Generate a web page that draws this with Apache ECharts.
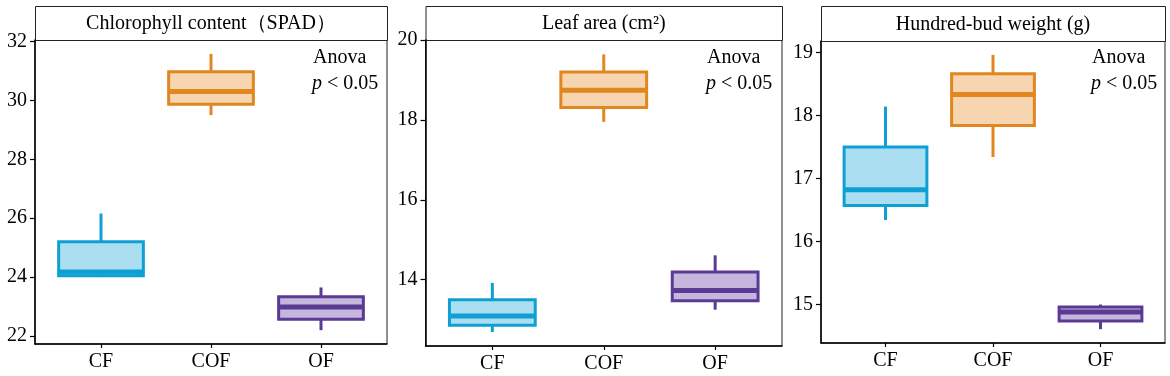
<!DOCTYPE html>
<html>
<head>
<meta charset="utf-8">
<script src="https://cdn.jsdelivr.net/npm/echarts@6/dist/echarts.min.js"></script>
<style>
  html, body { margin: 0; padding: 0; background: #fff; }
  #chart { width: 1170px; height: 376px; }
</style>
</head>
<body>
<div id="chart"></div>
<script>
// groups on the x axis
var categories = ['CF', 'COF', 'OF'];

// [min, Q1, median, Q3, max] per group
var chlorophyll = [
  [24.0, 24.05, 24.17, 25.2, 26.16],
  [29.5, 29.87, 30.3, 30.97, 31.58],
  [22.2, 22.57, 22.99, 23.33, 23.65]
];
var leafArea = [
  [12.69, 12.86, 13.09, 13.5, 13.92],
  [17.95, 18.31, 18.74, 19.2, 19.64],
  [13.25, 13.47, 13.73, 14.19, 14.61]
];
var budWeight = [
  [16.34, 16.57, 16.82, 17.5, 18.14],
  [17.34, 17.84, 18.33, 18.66, 18.96],
  [14.61, 14.74, 14.88, 14.96, 15.0]
];

// y tick labels
var chlorophyllTicks = [22, 24, 26, 28, 30, 32];
var leafAreaTicks = [14, 16, 18, 20];
var budWeightTicks = [15, 16, 17, 18, 19];

var titles = ['Chlorophyll content（SPAD）', 'Leaf area (cm²)', 'Hundred-bud weight (g)'];

var palette = [
  { line: '#0ea0d4', fill: '#abdef1' },
  { line: '#e0871f', fill: '#f6d5b0' },
  { line: '#5b3a95', fill: '#c5b6de' }
];

var FONT = '"Liberation Serif", "Times New Roman", serif';

// panel layout (px)
var panels = [
  { left: 35, width: 352, top: 40, height: 304, min: 21.73, max: 32.05, ticks: chlorophyllTicks, data: chlorophyll, textX: 312 },
  { left: 425.5, width: 356.5, top: 40, height: 306, min: 12.34, max: 20.0, ticks: leafAreaTicks, data: leafArea, textX: 706 },
  { left: 821, width: 344, top: 41, height: 302, min: 14.39, max: 19.18, ticks: budWeightTicks, data: budWeight, textX: 1091 }
];

function renderBox(params, api) {
  var x = api.value(0);
  var half = api.size([0.77, 0])[0] / 2;
  var pMin = api.coord([x, api.value(1)]);
  var pQ1 = api.coord([x, api.value(2)]);
  var pMed = api.coord([x, api.value(3)]);
  var pQ3 = api.coord([x, api.value(4)]);
  var pMax = api.coord([x, api.value(5)]);
  var c = palette[params.dataIndex];
  return {
    type: 'group',
    children: [
      { type: 'line', shape: { x1: pMin[0], y1: pMin[1], x2: pQ1[0], y2: pQ1[1] }, style: { stroke: c.line, lineWidth: 3 } },
      { type: 'line', shape: { x1: pQ3[0], y1: pQ3[1], x2: pMax[0], y2: pMax[1] }, style: { stroke: c.line, lineWidth: 3 } },
      { type: 'rect', shape: { x: pQ1[0] - half, y: pQ3[1], width: half * 2, height: pQ1[1] - pQ3[1] },
        style: { fill: c.fill, stroke: c.line, lineWidth: 3 } },
      { type: 'rect', shape: { x: pMed[0] - half, y: pMed[1] - 2.5, width: half * 2, height: 5 },
        style: { fill: c.line } }
    ]
  };
}

var grids = [], xAxes = [], yAxes = [], series = [], graphics = [];

panels.forEach(function (p, i) {
  grids.push({
    left: p.left, top: p.top, width: p.width, height: p.height,
    show: true, borderColor: '#222', borderWidth: 1, backgroundColor: 'transparent'
  });
  xAxes.push({
    type: 'value', gridIndex: i, min: 0.4, max: 3.6,
    axisLine: { show: true, onZero: false, lineStyle: { color: '#000', width: 1.5 } },
    axisTick: { show: true, length: 4, customValues: [1, 2, 3], lineStyle: { color: '#000', width: 1.2 } },
    axisLabel: {
      customValues: [1, 2, 3], margin: 8, color: '#000', fontFamily: FONT, fontSize: 20,
      formatter: function (v) { return categories[Math.round(v) - 1]; }
    },
    splitLine: { show: false }
  });
  yAxes.push({
    type: 'value', gridIndex: i, min: p.min, max: p.max,
    axisLine: { show: true, onZero: false, lineStyle: { color: '#000', width: 1.5 } },
    axisTick: { show: true, length: 5, customValues: p.ticks, lineStyle: { color: '#000', width: 1.2 } },
    axisLabel: { customValues: p.ticks, margin: 8, color: '#000', fontFamily: FONT, fontSize: 20 },
    splitLine: { show: false }
  });
  series.push({
    type: 'custom', xAxisIndex: i, yAxisIndex: i,
    renderItem: renderBox,
    encode: { x: 0, y: [1, 2, 3, 4, 5] },
    data: p.data.map(function (d, k) { return [k + 1].concat(d); }),
    silent: true
  });

  // strip header
  graphics.push({
    type: 'rect', left: p.left, top: 6,
    shape: { width: p.width, height: p.top - 6 },
    style: { fill: '#fff', stroke: '#222', lineWidth: 1 }
  });
  graphics.push({
    type: 'text', x: p.left + p.width / 2, y: (p.top + 6) / 2 + 1,
    style: { text: titles[i], fill: '#000', font: '20px ' + FONT, textAlign: 'center', textVerticalAlign: 'middle' }
  });
  // Anova annotation
  graphics.push({
    type: 'text', x: p.textX + 1, y: 58,
    style: { text: 'Anova', fill: '#000', font: '20px ' + FONT, textAlign: 'left', textVerticalAlign: 'middle' }
  });
  graphics.push({
    type: 'text', x: p.textX, y: 84,
    style: {
      text: '{i|p} < 0.05', fill: '#000', font: '20px ' + FONT, textAlign: 'left', textVerticalAlign: 'middle',
      rich: { i: { fontStyle: 'italic', fontFamily: FONT, fontSize: 20, fill: '#000' } }
    }
  });
});

var chart = echarts.init(document.getElementById('chart'));
chart.setOption({
  backgroundColor: '#fff',
  animation: false,
  grid: grids,
  xAxis: xAxes,
  yAxis: yAxes,
  series: series,
  graphic: graphics
});
</script>
</body>
</html>
